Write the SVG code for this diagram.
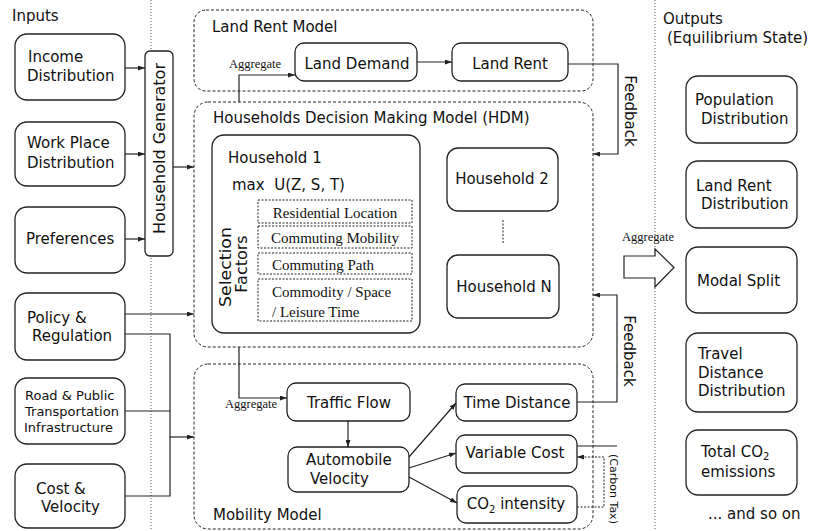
<svg xmlns="http://www.w3.org/2000/svg" width="815" height="531" viewBox="0 0 815 531">
<style>
.box{fill:#fff;stroke:#222;stroke-width:1.3}
.dash{fill:none;stroke:#222;stroke-width:1;stroke-dasharray:3 2}
.fac{fill:none;stroke:#222;stroke-width:1;stroke-dasharray:2 1.5}
.sep{stroke:#555;stroke-width:1;stroke-dasharray:1 2}
.t{font-family:"DejaVu Sans",Verdana,sans-serif;font-size:15px;fill:#111}
.sm{font-size:13px}
.s{font-family:"Liberation Serif","Times New Roman",serif;font-size:15px;fill:#111}
.ag{font-family:"Liberation Serif","Times New Roman",serif;font-size:12.5px;fill:#111}
.mid{text-anchor:middle}
.cn{stroke:#222;stroke-width:1.2;fill:none}
.dot{stroke:#222;stroke-width:1;fill:none;stroke-dasharray:2 1.5}
</style>
<defs>
<marker id="ah" markerWidth="7" markerHeight="5" refX="7" refY="2.5" orient="auto" markerUnits="userSpaceOnUse"><path d="M0,0 L7,2.5 L0,5 z" fill="#222"/></marker>
</defs>
<rect width="815" height="531" fill="#fff"/>

<g id="separators">
<line class="sep" x1="151" y1="0" x2="151" y2="531"/>
<line class="sep" x1="655" y1="0" x2="655" y2="531"/>
</g>

<text class="t" x="12" y="21">Inputs</text>
<text class="t" x="663" y="24">Outputs</text>
<text class="t" x="667" y="43">(Equilibrium State)</text>

<!-- Inputs -->
<g id="income"><rect class="box" x="15" y="34" width="110" height="66" rx="12"/>
<text class="t" x="28" y="62">Income</text><text class="t" x="27" y="81">Distribution</text></g>
<g id="workplace"><rect class="box" x="15" y="122" width="110" height="64" rx="12"/>
<text class="t" x="27" y="148">Work Place</text><text class="t" x="27" y="168">Distribution</text></g>
<g id="preferences"><rect class="box" x="15" y="207" width="110" height="66" rx="12"/>
<text class="t" x="26" y="244">Preferences</text></g>
<g id="policy"><rect class="box" x="15" y="293" width="110" height="67" rx="12"/>
<text class="t" x="27" y="323">Policy &amp;</text><text class="t" x="32" y="341">Regulation</text></g>
<g id="road"><rect class="box" x="15" y="378" width="110" height="66" rx="12"/>
<text class="t sm" x="25" y="400">Road &amp; Public</text><text class="t sm" x="25" y="416">Transportation</text><text class="t sm" x="24" y="432">Infrastructure</text></g>
<g id="cost"><rect class="box" x="15" y="464" width="110" height="64" rx="12"/>
<text class="t" x="36" y="494">Cost &amp;</text><text class="t" x="41" y="512">Velocity</text></g>

<g id="household-generator"><rect class="box" x="145" y="51" width="28" height="205" rx="5"/>
<text class="t mid" x="159" y="148.5" style="font-size:16px" dominant-baseline="central" transform="rotate(-90 159 148.5)">Household Generator</text></g>

<!-- Land Rent Model -->
<g id="land-rent-model"><rect class="dash" x="194" y="10" width="399" height="81" rx="12"/>
<text class="t" x="212" y="32">Land Rent Model</text></g>
<g id="land-demand"><rect class="box" x="295" y="43" width="122" height="38" rx="9"/>
<text class="t mid" x="357" y="69">Land Demand</text></g>
<g id="land-rent"><rect class="box" x="452" y="43" width="116" height="38" rx="9"/>
<text class="t mid" x="510" y="69">Land Rent</text></g>

<!-- HDM -->
<g id="hdm"><rect class="dash" x="194" y="102" width="399" height="245" rx="14"/>
<text class="t" x="213" y="123">Households Decision Making Model (HDM)</text></g>
<g id="household1"><rect class="box" x="212" y="135" width="208" height="198" rx="12"/>
<text class="t" x="228" y="163">Household 1</text>
<text class="t" x="232" y="190" xml:space="preserve">max  U(Z, S, T)</text>
<text class="t mid" transform="rotate(-90 225 267)" x="225" y="267" style="font-size:16.5px" dominant-baseline="central" textLength="80" lengthAdjust="spacingAndGlyphs">Selection</text>
<text class="t mid" transform="rotate(-90 241 264)" x="241" y="264" style="font-size:16px" dominant-baseline="central">Factors</text>
<rect class="fac" x="258" y="200" width="154" height="23"/>
<text class="s mid" x="335" y="218">Residential Location</text>
<rect class="fac" x="258" y="226" width="154" height="22"/>
<text class="s mid" x="335" y="243">Commuting Mobility</text>
<rect class="fac" x="258" y="253" width="154" height="21"/>
<text class="s" x="272" y="270">Commuting Path</text>
<rect class="fac" x="258" y="279" width="154" height="42"/>
<text class="s" x="272" y="297">Commodity / Space</text>
<text class="s" x="272" y="317">/ Leisure Time</text></g>
<g id="household2"><rect class="box" x="447" y="148" width="111" height="63" rx="11"/>
<text class="t mid" x="502" y="184">Household 2</text></g>
<line class="dot" x1="503" y1="220" x2="503" y2="243"/>
<g id="householdN"><rect class="box" x="447" y="255" width="112" height="63" rx="11"/>
<text class="t mid" x="504" y="292">Household N</text></g>

<!-- Mobility Model -->
<g id="mobility-model"><rect class="dash" x="194" y="364" width="399" height="165" rx="14"/>
<text class="t" x="213" y="520">Mobility Model</text></g>
<g id="traffic-flow"><rect class="box" x="287" y="383" width="123" height="38" rx="9"/>
<text class="t mid" x="349" y="408">Traffic Flow</text></g>
<g id="automobile-velocity"><rect class="box" x="288" y="447" width="121" height="45" rx="9"/>
<text class="t" x="306" y="465">Automobile</text><text class="t" x="310" y="484">Velocity</text></g>
<g id="time-distance"><rect class="box" x="456" y="384" width="121" height="37" rx="9"/>
<text class="t mid" x="517" y="408">Time Distance</text></g>
<g id="variable-cost"><rect class="box" x="456" y="435" width="121" height="38" rx="9"/>
<text class="t mid" x="515" y="458">Variable Cost</text></g>
<g id="co2-intensity"><rect class="box" x="457" y="486" width="120" height="37" rx="9"/>
<text class="t mid" x="516" y="509">CO<tspan style="font-size:10px" dy="4">2</tspan><tspan dy="-4"> intensity</tspan></text></g>

<!-- Outputs -->
<g id="population"><rect class="box" x="686" y="76" width="111" height="67" rx="12"/>
<text class="t" x="695" y="105">Population</text><text class="t" x="701" y="124">Distribution</text></g>
<g id="land-rent-dist"><rect class="box" x="686" y="161" width="111" height="67" rx="12"/>
<text class="t" x="696" y="191">Land Rent</text><text class="t" x="701" y="209">Distribution</text></g>
<g id="modal-split"><rect class="box" x="686" y="247" width="111" height="66" rx="12"/>
<text class="t" x="697" y="286">Modal Split</text></g>
<g id="travel-distance"><rect class="box" x="686" y="333" width="111" height="79" rx="12"/>
<text class="t" x="698" y="359">Travel</text><text class="t" x="698" y="378">Distance</text><text class="t" x="698" y="396">Distribution</text></g>
<g id="total-co2"><rect class="box" x="686" y="430" width="111" height="65" rx="12"/>
<text class="t" x="701" y="457">Total CO<tspan style="font-size:10px" dy="3">2</tspan></text><text class="t" x="701" y="477">emissions</text></g>
<text class="t" x="708" y="519">... and so on</text>

<!-- Connectors -->
<g id="connectors">
<line class="cn" x1="125" y1="68" x2="145" y2="68" marker-end="url(#ah)"/>
<line class="cn" x1="125" y1="154" x2="145" y2="154" marker-end="url(#ah)"/>
<line class="cn" x1="125" y1="239" x2="145" y2="239" marker-end="url(#ah)"/>
<line class="cn" x1="173" y1="167" x2="194" y2="167" marker-end="url(#ah)"/>
<line class="cn" x1="125" y1="314" x2="194" y2="314" marker-end="url(#ah)"/>
<path class="cn" d="M125,334 H170 V496 H125 M125,411 H170"/>
<line class="cn" x1="170" y1="437" x2="194" y2="437" marker-end="url(#ah)"/>
<path class="cn" d="M239,102 V75 H295" marker-end="url(#ah)"/>
<line class="cn" x1="417" y1="62" x2="452" y2="62" marker-end="url(#ah)"/>
<path class="cn" d="M568,64 H618 V154 H593" marker-end="url(#ah)"/>
<path class="cn" d="M239,347 V398 H287" marker-end="url(#ah)"/>
<line class="cn" x1="348" y1="421" x2="348" y2="447" marker-end="url(#ah)"/>
<line class="cn" x1="409" y1="457" x2="456" y2="403" marker-end="url(#ah)"/>
<line class="cn" x1="409" y1="468" x2="456" y2="453" marker-end="url(#ah)"/>
<line class="cn" x1="409" y1="477" x2="457" y2="503" marker-end="url(#ah)"/>
<path class="cn" d="M577,402 H617 V295 H593" marker-end="url(#ah)"/>
<path class="cn" d="M577,446 H617"/>
<path class="dot" d="M577,507 H604 V457 H577" marker-end="url(#ah)"/>
<polygon points="624,256 655,256 655,249 674,267.5 655,287 655,278 624,278" fill="#fff" stroke="#222" stroke-width="1.2"/>
</g>

<text class="ag" x="229" y="68">Aggregate</text>
<text class="ag" x="225" y="408">Aggregate</text>
<text class="ag" x="622" y="241">Aggregate</text>
<text class="t mid" x="630" y="111" dominant-baseline="central" transform="rotate(90 630 111)">Feedback</text>
<text class="t mid" x="629" y="351" dominant-baseline="central" transform="rotate(90 629 351)">Feedback</text>
<text class="t mid" x="613" y="489" style="font-size:11px" dominant-baseline="central" transform="rotate(90 613 489)">(Carbon Tax)</text>
</svg>
